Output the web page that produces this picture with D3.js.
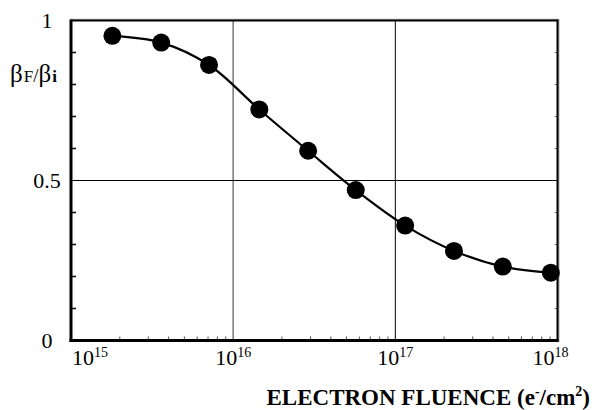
<!DOCTYPE html>
<html>
<head>
<meta charset="utf-8">
<script src="https://cdn.jsdelivr.net/npm/d3@7"></script>
<style>
  body { margin: 0; background: #fff; }
  svg { display: block; }
  text { font-family: "Liberation Serif", "Times New Roman", serif; fill: #000; }
</style>
</head>
<body>
<div id="chart"></div>
<script>
// --- data ---
const fluence = [1.8e15, 3.6e15, 7.1e15, 1.45e16, 2.9e16, 5.7e16, 1.15e17, 2.3e17, 4.6e17, 9.1e17];
const ratio = [0.952, 0.931, 0.861, 0.722, 0.593, 0.470, 0.359, 0.280, 0.231, 0.212];
const xDecades = [1e15, 1e16, 1e17, 1e18];
const xExponents = ["15", "16", "17", "18"];
const yTickLabels = [0, 0.5, 1];

// --- setup ---
const width = 603, height = 410;
const plotL = 71, plotR = 557.5, plotT = 20.5, plotB = 340.5;

const svg = d3.select("#chart").append("svg")
    .attr("width", width).attr("height", height);

const x = d3.scaleLog().domain([1e15, 1e18]).range([plotL, plotR]);
const y = d3.scaleLinear().domain([0, 1]).range([plotB, plotT]);

// grid lines
svg.append("line")
    .attr("x1", x(1e16)).attr("x2", x(1e16)).attr("y1", plotT).attr("y2", plotB)
    .attr("stroke", "#808080").attr("stroke-width", 1.6);
svg.append("line")
    .attr("x1", x(1e17)).attr("x2", x(1e17)).attr("y1", plotT).attr("y2", plotB)
    .attr("stroke", "#000").attr("stroke-width", 1);
svg.append("line")
    .attr("x1", plotL).attr("x2", plotR).attr("y1", y(0.5)).attr("y2", y(0.5))
    .attr("stroke", "#000").attr("stroke-width", 1);

// minor ticks, inside
const yMinor = d3.range(1, 10).map(d => d / 10).filter(d => d !== 0.5);
svg.append("g").selectAll("line").data(yMinor).join("line")
    .attr("x1", plotL).attr("x2", plotL + 5)
    .attr("y1", d => y(d)).attr("y2", d => y(d))
    .attr("stroke", "#000").attr("stroke-width", 1.5);
svg.append("g").selectAll("line").data(yMinor).join("line")
    .attr("x1", plotR - 3).attr("x2", plotR)
    .attr("y1", d => y(d)).attr("y2", d => y(d))
    .attr("stroke", "#777").attr("stroke-width", 1);

const xMinor = [];
xDecades.slice(0, 3).forEach(dec => {
    for (let k = 2; k <= 9; k++) xMinor.push(dec * k);
});
svg.append("g").selectAll("line").data(xMinor).join("line")
    .attr("x1", d => x(d)).attr("x2", d => x(d))
    .attr("y1", plotB - 4).attr("y2", plotB)
    .attr("stroke", "#555").attr("stroke-width", 1);

// frame
svg.append("line").attr("x1", plotL - 1).attr("x2", plotR + 1).attr("y1", plotT - 1.2).attr("y2", plotT - 1.2)
    .attr("stroke", "#999").attr("stroke-width", 1);
svg.append("line").attr("x1", plotL).attr("x2", plotR).attr("y1", plotT).attr("y2", plotT)
    .attr("stroke", "#000").attr("stroke-width", 2);
svg.append("line").attr("x1", plotR + 1.3).attr("x2", plotR + 1.3).attr("y1", plotT - 1.5).attr("y2", plotB + 1.5)
    .attr("stroke", "#999").attr("stroke-width", 1.2);
svg.append("line").attr("x1", plotR).attr("x2", plotR).attr("y1", plotT - 1).attr("y2", plotB + 1.5)
    .attr("stroke", "#000").attr("stroke-width", 2);
svg.append("line").attr("x1", plotL).attr("x2", plotL).attr("y1", plotT - 1).attr("y2", plotB + 1.5)
    .attr("stroke", "#000").attr("stroke-width", 3);
svg.append("line").attr("x1", plotL - 1.5).attr("x2", plotR + 1).attr("y1", plotB).attr("y2", plotB)
    .attr("stroke", "#000").attr("stroke-width", 3);

// --- curve + points ---
const pts = fluence.map((f, i) => [f, ratio[i]]);
const line = d3.line()
    .x(d => x(d[0])).y(d => y(d[1]))
    .curve(d3.curveCatmullRom.alpha(0.5));

svg.append("path").datum(pts)
    .attr("d", line)
    .attr("fill", "none").attr("stroke", "#000").attr("stroke-width", 2.2);

svg.append("g").selectAll("circle").data(pts).join("circle")
    .attr("cx", d => x(d[0])).attr("cy", d => y(d[1]))
    .attr("r", 9).attr("fill", "#000");

// --- y tick labels ---
svg.append("g").selectAll("text").data(yTickLabels).join("text")
    .attr("x", 47).attr("y", d => y(d) + 7)
    .attr("text-anchor", "middle")
    .style("font-size", "22px")
    .text(d => d);

// --- x tick labels (10^n) ---
const xl = svg.append("g").selectAll("text").data(xDecades).join("text")
    .attr("x", (d, i) => i === 0 ? x(d) + 1 : (i === xDecades.length - 1 ? x(d) - 7 : x(d)))
    .attr("y", 365)
    .attr("text-anchor", (d, i) => i === 0 ? "start" : "middle")
    .style("font-size", "22px");
xl.append("tspan").text("10");
xl.append("tspan").attr("dy", -8).style("font-size", "14px").text((d, i) => xExponents[i]);

// --- axis titles ---
const yt = svg.append("text").attr("x", 10).attr("y", 82).style("font-size", "25px");
yt.append("tspan").text("β");
yt.append("tspan").style("font-size", "17px").attr("dx", 1).text("F");
yt.append("tspan").style("font-size", "19px").text("/");
yt.append("tspan").text("β");
yt.append("tspan").style("font-size", "17px").style("font-weight", "bold").attr("dx", 1).text("i");

const xt = svg.append("text").attr("x", 590).attr("y", 405)
    .attr("text-anchor", "end")
    .style("font-size", "23px").style("font-weight", "bold");
xt.append("tspan").text("ELECTRON FLUENCE (e");
xt.append("tspan").attr("dy", -9).style("font-size", "14px").text("-");
xt.append("tspan").attr("dy", 9).text("/cm");
xt.append("tspan").attr("dy", -9).style("font-size", "14px").text("2");
xt.append("tspan").attr("dy", 9).text(")");
</script>
</body>
</html>
